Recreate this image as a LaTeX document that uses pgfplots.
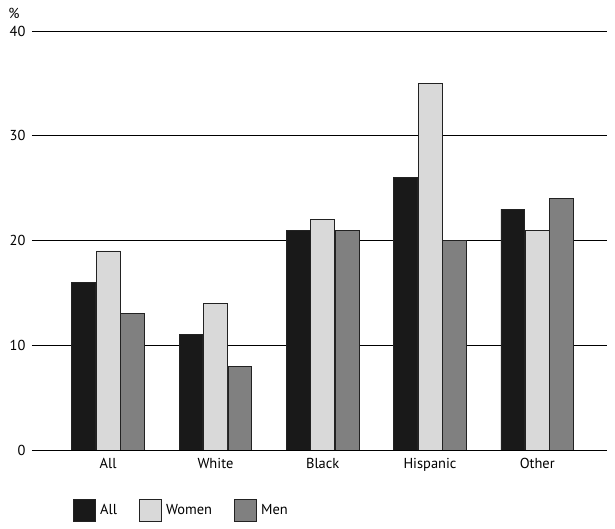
\documentclass[border=0pt]{standalone}
\usepackage{pgfplots}
\pgfplotsset{compat=1.18}
\usepackage{fontspec}
\setmainfont{PT Sans}
\definecolor{cAll}{HTML}{191919}
\definecolor{cWomen}{HTML}{D9D9D9}
\definecolor{cMen}{HTML}{808080}
\definecolor{cEdge}{HTML}{222222}
\begin{document}
\begin{tikzpicture}
\useasboundingbox (-32bp,-79bp) rectangle (583bp,450bp);
\begin{axis}[
  at={(0,0)}, anchor=south west,
  scale only axis, width=575bp, height=419bp,
  xmin=-0.71, xmax=4.65, ymin=0, ymax=40,
  xtick={0,1,2,3,4}, xticklabels={All,White,Black,Hispanic,Other},
  ytick={0,10,20,30,40},
  ymajorgrids, grid style={black, line width=0.9bp},
  axis line style={draw=none},
  major tick length=0pt,
  tick label style={font=\fontsize{14.5}{16}\selectfont},
  /pgf/number format/assume math mode=true,
  yticklabel style={xshift=-3bp},
  xticklabel style={yshift=-5bp},
  ybar, bar width=0.222,
  every axis plot/.append style={draw=cEdge, line width=0.8bp},
  legend columns=3,
  legend style={at={(38bp,-60bp)}, anchor=west, draw=none, fill=none,
    font=\fontsize{14.5}{16}\selectfont,
    /tikz/every odd column/.append style={column sep=3bp},
    /tikz/every even column/.append style={column sep=20bp}},
  legend image code/.code={\draw[#1, line width=0pt] (0bp,-11bp) rectangle (22bp,11bp);},
]
\addplot[fill=cAll, bar shift=-0.228] coordinates {(0,16) (1,11) (2,21) (3,26) (4,23)};
\addplot[fill=cWomen, bar shift=0] coordinates {(0,19) (1,14) (2,22) (3,35) (4,21)};
\addplot[fill=cMen, bar shift=0.228] coordinates {(0,13) (1,8) (2,21) (3,20) (4,24)};
\legend{All,Women,Men}
\end{axis}
\node[font=\fontsize{14.5}{16}\selectfont] at (-18bp,437bp) {\%};
\end{tikzpicture}
\end{document}
